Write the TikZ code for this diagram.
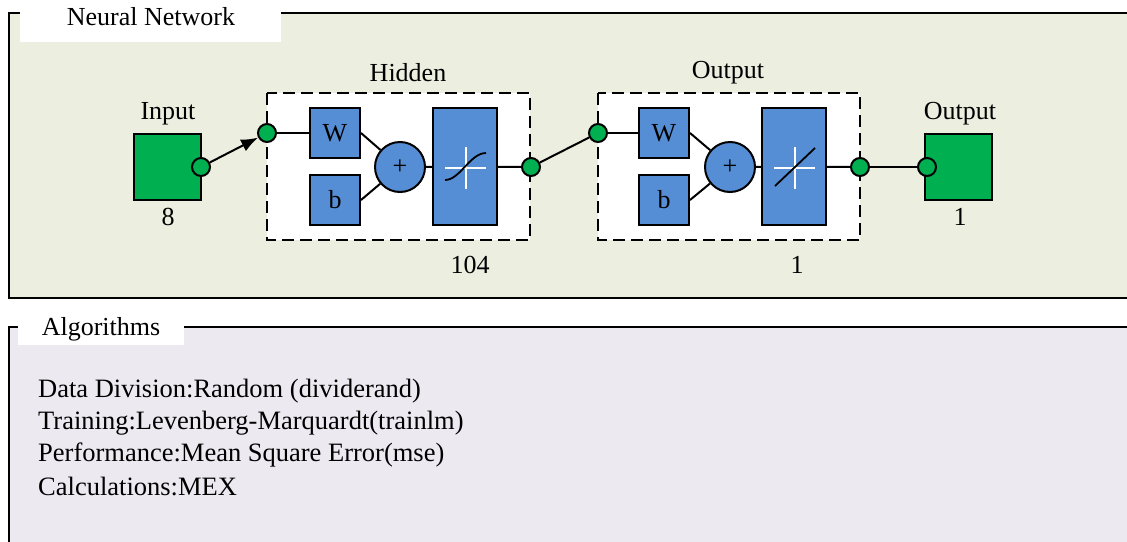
\documentclass[tikz,border=0pt]{standalone}
\usepackage{fontspec}
\setmainfont{Liberation Serif}
\usetikzlibrary{arrows.meta}
\definecolor{panelA}{HTML}{ECEEDF}
\definecolor{panelB}{HTML}{ECE9F0}
\definecolor{nnblue}{HTML}{558ED5}
\definecolor{nngreen}{HTML}{00B050}
\tikzset{
  lbl/.style={font=\fontsize{26}{30}\selectfont, inner sep=0pt},
  algtxt/.style={font=\fontsize{26.5}{32}\selectfont, inner sep=0pt, anchor=west},
  wbox/.style={draw, line width=2pt, fill=nnblue, minimum width=50pt, minimum height=50pt, inner sep=0pt, font=\fontsize{26}{30}\selectfont},
  tfbox/.style={draw, line width=2pt, fill=nnblue, minimum width=64pt, minimum height=117pt, inner sep=0pt},
  sumc/.style={draw, line width=2pt, fill=nnblue, circle, minimum size=50pt, inner sep=0pt, font=\fontsize{26}{28}\selectfont},
  port/.style={draw, line width=2pt, fill=nngreen, circle, minimum size=18pt, inner sep=0pt},
  iobox/.style={draw, line width=2pt, fill=nngreen, minimum width=67pt, minimum height=66pt, inner sep=0pt},
  layerbox/.style={draw, line width=2.2pt, fill=white, dash pattern=on 12pt off 6pt},
  wire/.style={line width=2pt},
  border/.style={line width=2pt},
}
\begin{document}
\begin{tikzpicture}[x=1pt,y=-1pt]
\useasboundingbox (0,0) rectangle (1127,541);
% network panel
\fill[panelA] (9,13) rectangle (1130,298);
\draw[border] (1130,13) -- (9,13) -- (9,298) -- (1130,298);
\fill[white] (20,0) rectangle (281,42);
\node[lbl] (nntitle) at (151,17) {Neural Network};
% algorithms panel
\fill[panelB] (9,327) rectangle (1130,545);
\draw[border] (1130,327) -- (9,327) -- (9,545);
\fill[white] (18,312) rectangle (184,345);
\node[lbl] (algtitle) at (101,329) {Algorithms};
\node[algtxt] (alg1) at (38,391) {Data Division:Random (dividerand)};
\node[algtxt] (alg2) at (38,423) {Training:Levenberg-Marquardt(trainlm)};
\node[algtxt] (alg3) at (38,455) {Performance:Mean Square Error(mse)};
\node[algtxt] (alg4) at (38,486) {Calculations:MEX};
% layer frames
\draw[layerbox] (267,93) rectangle (530,240);
\draw[layerbox] (598,93) rectangle (860,240);
\node[lbl] (hidlbl) at (408,73) {Hidden};
\node[lbl] (hidn) at (470,265) {104};
\node[lbl] (outlbl) at (728,73) {Output};
\node[lbl] (outn) at (797,265) {1};
% input
\node[iobox] (in) at (167.5,167) {};
\node[lbl] (inlbl) at (168,114) {Input};
\node[lbl] (inn) at (168,217) {8};
% output
\node[iobox] (out) at (958.5,167) {};
\node[lbl] (outblbl) at (960,114) {Output};
\node[lbl] (outbn) at (960,217) {1};
% hidden layer
\node[wbox] (hW) at (335,133) {W};
\node[wbox] (hb) at (335,200) {b};
\node[sumc] (hs) at (400,167) {+};
\node[tfbox] (htf) at (465,166.5) {};
\draw[white, line width=1.3pt] (445,168) -- (486,168) (466,147) -- (466,189);
\draw[line width=1.8pt] (445,180) .. controls (460,180) and (470,153) .. (486,153);
% output layer
\node[wbox] (oW) at (664,133) {W};
\node[wbox] (ob) at (664,200) {b};
\node[sumc] (os) at (730,167) {+};
\node[tfbox] (otf) at (794,166.5) {};
\draw[white, line width=1.3pt] (774,168) -- (815,168) (795,147) -- (795,189);
\draw[line width=1.8pt] (775,186) -- (815,148);
% connections
\draw[wire] (hW.east) -- (hs);
\draw[wire] (hb.east) -- (hs);
\draw[wire] (hs) -- (htf);
\draw[wire] (oW.east) -- (os);
\draw[wire] (ob.east) -- (os);
\draw[wire] (os) -- (otf);
\node[port] (pin) at (201,167) {};
\node[port] (ph1) at (267,133) {};
\node[port] (ph2) at (531,167) {};
\node[port] (po1) at (598,133) {};
\node[port] (po2) at (860,167) {};
\node[port] (pout) at (927,167) {};
\draw[wire, -{Latex[length=17pt,width=13pt]}] (pin) -- (ph1);
\draw[wire] (ph1) -- (hW.west);
\draw[wire] (htf) -- (ph2);
\draw[wire] (ph2) -- (po1);
\draw[wire] (po1) -- (oW.west);
\draw[wire] (otf) -- (po2);
\draw[wire] (po2) -- (pout);
\end{tikzpicture}
\end{document}
